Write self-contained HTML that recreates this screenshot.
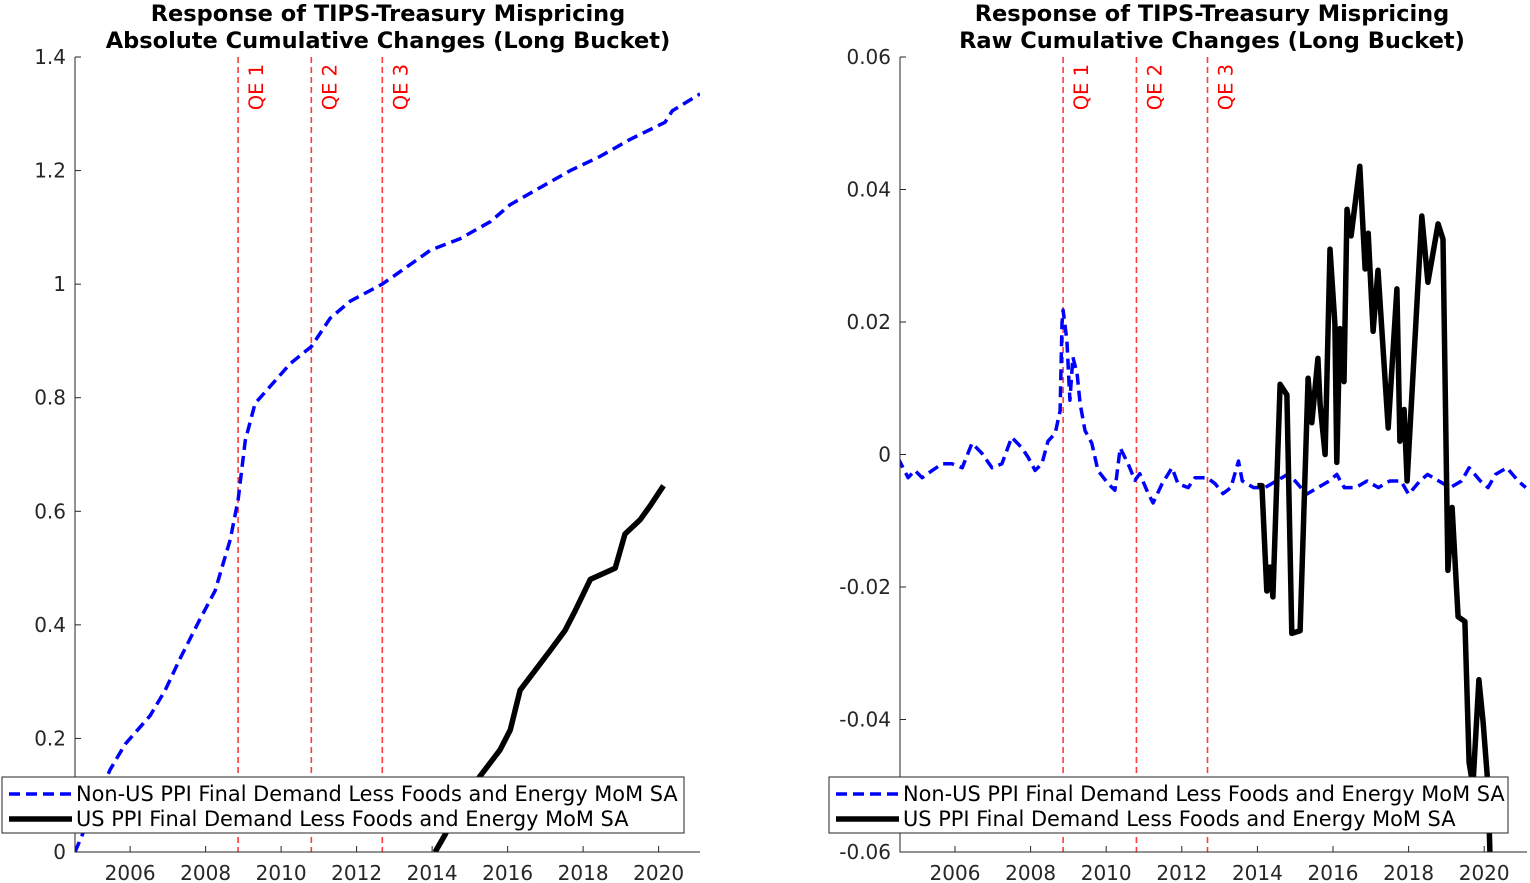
<!DOCTYPE html>
<html><head><meta charset="utf-8"><style>
html,body{margin:0;padding:0;background:#fff;}
svg{display:block;font-family:"DejaVu Sans","Liberation Sans",sans-serif;}
</style></head><body>
<svg id="chart" width="1530" height="883" viewBox="0 0 1530 883">
<defs>
<clipPath id="clipL"><rect x="75" y="57" width="625" height="795"/></clipPath>
<clipPath id="clipR"><rect x="900" y="57" width="627" height="795"/></clipPath>
</defs>
</svg>
<script>
// ---------- data ----------
const qeYears = [2008.86, 2010.8, 2012.68];
const qeLabels = ["QE 1", "QE 2", "QE 3"];
const xTickYears = [2006, 2008, 2010, 2012, 2014, 2016, 2018, 2020];
const leftYTicks = [0, 0.2, 0.4, 0.6, 0.8, 1, 1.2, 1.4];
const rightYTicks = [-0.06, -0.04, -0.02, 0, 0.02, 0.04, 0.06];
const seriesNames = ["Non-US PPI Final Demand Less Foods and Energy MoM SA", "US PPI Final Demand Less Foods and Energy MoM SA"];

const leftBlueYears = [2004.54,2005.47,2005.87,2006.53,2006.93,2007.32,2007.85,2008.25,2008.65,2008.86,2009.05,2009.31,2009.71,2010.24,2010.8,2011.3,2011.83,2012.68,2013.43,2013.96,2014.74,2015.54,2016.07,2016.86,2017.66,2018.45,2019.25,2020.17,2020.36,2021.1];
const leftBlueValues = [0,0.145,0.19,0.24,0.285,0.34,0.41,0.46,0.55,0.62,0.725,0.79,0.82,0.86,0.89,0.94,0.97,1.0,1.035,1.06,1.08,1.11,1.14,1.17,1.2,1.225,1.255,1.285,1.305,1.335];
const leftBlackYears = [2014.08,2014.34,2014.6,2015.0,2015.4,2015.8,2016.07,2016.33,2016.73,2017.13,2017.52,2017.79,2018.19,2018.85,2019.11,2019.51,2019.78,2020.13];
const leftBlackValues = [0,0.03,0.065,0.11,0.145,0.18,0.215,0.285,0.32,0.355,0.39,0.425,0.48,0.5,0.56,0.585,0.61,0.645];

const rightBlueYears = [2004.49,2004.76,2004.94,2005.13,2005.4,2005.66,2005.92,2006.19,2006.45,2006.71,2006.98,2007.24,2007.5,2007.77,2007.93,2008.12,2008.3,2008.46,2008.65,2008.78,2008.83,2008.86,2008.96,2009.04,2009.12,2009.23,2009.31,2009.44,2009.62,2009.78,2010.05,2010.23,2010.37,2010.58,2010.76,2010.89,2011.11,2011.24,2011.48,2011.74,2011.9,2012.17,2012.35,2012.67,2012.88,2013.09,2013.3,2013.5,2013.6,2013.9,2014.2,2014.5,2014.8,2015.0,2015.3,2015.6,2015.9,2016.1,2016.3,2016.6,2016.9,2017.2,2017.5,2017.8,2018.0,2018.3,2018.5,2018.8,2019.1,2019.4,2019.6,2019.9,2020.1,2020.3,2020.6,2020.9,2021.1];
const rightBlueValues = [-0.0005,-0.0035,-0.0024,-0.0035,-0.0024,-0.0014,-0.0014,-0.002,0.0017,0.0002,-0.002,-0.0014,0.0026,0.001,-0.0004,-0.0024,-0.0014,0.002,0.0032,0.0066,0.0198,0.0218,0.0172,0.0082,0.0147,0.0122,0.0077,0.0036,0.0017,-0.0024,-0.0044,-0.0054,0.001,-0.0014,-0.0039,-0.0029,-0.0059,-0.0073,-0.0044,-0.002,-0.0044,-0.005,-0.0035,-0.0035,-0.0044,-0.0059,-0.005,-0.001,-0.004,-0.005,-0.005,-0.004,-0.003,-0.004,-0.006,-0.005,-0.004,-0.003,-0.005,-0.005,-0.004,-0.005,-0.004,-0.004,-0.006,-0.004,-0.003,-0.004,-0.005,-0.004,-0.002,-0.004,-0.005,-0.003,-0.002,-0.004,-0.005];
const rightBlackYears = [2014.0,2014.12,2014.25,2014.33,2014.41,2014.6,2014.78,2014.91,2015.13,2015.34,2015.44,2015.6,2015.66,2015.79,2015.92,2016.05,2016.1,2016.18,2016.29,2016.37,2016.48,2016.71,2016.85,2016.93,2017.06,2017.19,2017.46,2017.69,2017.77,2017.88,2017.96,2018.35,2018.51,2018.78,2018.91,2019.04,2019.15,2019.31,2019.49,2019.6,2019.7,2019.86,2019.97,2020.1,2020.2];
const rightBlackValues = [-0.0047,-0.0047,-0.0206,-0.017,-0.0215,0.0106,0.009,-0.027,-0.0266,0.0115,0.0048,0.0145,0.0076,0.0,0.031,0.0197,-0.0012,0.019,0.011,0.037,0.033,0.0435,0.028,0.0334,0.0186,0.0278,0.004,0.025,0.002,0.0068,-0.004,0.036,0.026,0.0348,0.0325,-0.0175,-0.008,-0.0245,-0.0252,-0.0465,-0.05,-0.034,-0.0404,-0.05,-0.07];

// ---------- drawing ----------
const svg = document.getElementById('chart');
const NS = 'http://www.w3.org/2000/svg';
function mk(tag, attrs, parent) {
  const e = document.createElementNS(NS, tag);
  for (const k in attrs) e.setAttribute(k, attrs[k]);
  (parent || svg).appendChild(e);
  return e;
}

function drawPanel(p) {
  const g = mk('g', {});
  
  
  const xs = y => p.x0 + (y - p.yr0) * p.pxYear;
  const ys = v => p.yBottom - (v - p.vMin) / (p.vMax - p.vMin) * (p.yBottom - p.yTop);

  const t = mk('text', {x: p.titleX, y: 21, 'text-anchor': 'middle', 'font-size': 22.5, 'font-weight': 'bold', fill: '#000'}, g);
  
  
  const t1 = mk('tspan', {x: p.titleX, dy: 0}, t); t1.textContent = p.title[0];
  const t2 = mk('tspan', {x: p.titleX, dy: 27}, t); t2.textContent = p.title[1];

  qeYears.forEach((qy, i) => {
    const X = xs(qy);
    const l = mk('line', {x1: X, x2: X, y1: p.yTop, y2: p.yBottom, stroke: '#ff3b3b', 'stroke-width': 1.6, 'stroke-dasharray': '6,4'}, g);
    
    
    const tx = mk('text', {x: X + 25, y: 64, 'font-size': 19.5, fill: '#ff0000', 'text-anchor': 'end', transform: `rotate(-90 ${X + 25} 64)`}, g);
    
    
    tx.textContent = qeLabels[i];
  });

  function line(years, vals, color, width, dash, nm) {
    const d = years.map((y, i) => (i ? 'L' : 'M') + xs(y).toFixed(1) + ',' + ys(vals[i]).toFixed(1)).join('');
    const a = {d: d, fill: 'none', stroke: color, 'stroke-width': width, 'stroke-linejoin': 'round', 'clip-path': `url(#${p.clip})`};
    if (dash) a['stroke-dasharray'] = dash;
    const e = mk('path', a, g);
    
    
  }
  line(p.blueY, p.blueV, '#0000ff', 3.5, '11,6', 'non-us-series-line');
  line(p.blackY, p.blackV, '#000000', 5.5, null, 'us-series-line');

  const ax = mk('path', {d: `M${p.x0},${p.yTop}V${p.yBottom}H${p.x1}`, fill: 'none', stroke: '#262626', 'stroke-width': 1}, g);
  
  
  xTickYears.forEach(yr => {
    const X = xs(yr);
    mk('line', {x1: X, x2: X, y1: p.yBottom, y2: p.yBottom - 6, stroke: '#262626'}, g);
    const tl = mk('text', {x: X, y: p.yBottom + 28, 'text-anchor': 'middle', 'font-size': 20, fill: '#262626'}, g);
    
    
    tl.textContent = yr;
  });
  p.yTicks.forEach(v => {
    const Y = ys(v);
    mk('line', {x1: p.x0, x2: p.x0 + 6, y1: Y, y2: Y, stroke: '#262626'}, g);
    const tl = mk('text', {x: p.x0 - 9, y: Y + 7, 'text-anchor': 'end', 'font-size': 20, fill: '#262626'}, g);
    
    
    tl.textContent = String(Math.round(v * 100) / 100);
  });

  const lg = mk('g', {}, g);
  
  
  mk('rect', {x: p.legX, y: 777, width: p.legW, height: 56, fill: '#fff', stroke: '#262626', 'stroke-width': 1}, lg);
  [['#0000ff', 3.5, '11,6'], ['#000', 5.5, null]].forEach((s, i) => {
    const yy = 794 + i * 25;
    const a = {x1: p.legX + 7, x2: p.legX + 70, y1: yy, y2: yy, stroke: s[0], 'stroke-width': s[1]};
    if (s[2]) a['stroke-dasharray'] = s[2];
    const ln = mk('line', a, lg);
    
    
    const tx = mk('text', {x: p.legX + 74, y: yy + 7, 'font-size': 20.9, fill: '#000'}, lg);
    
    
    tx.textContent = seriesNames[i];
  });
}

drawPanel({name: 'left-panel', clip: 'clipL', x0: 75, x1: 700, yTop: 57, yBottom: 852, yr0: 2004.54, pxYear: 37.75,
  vMin: 0, vMax: 1.4, yTicks: leftYTicks, titleX: 388,
  title: ['Response of TIPS-Treasury Mispricing', 'Absolute Cumulative Changes (Long Bucket)'],
  blueY: leftBlueYears, blueV: leftBlueValues, blackY: leftBlackYears, blackV: leftBlackValues, legX: 2, legW: 682});
drawPanel({name: 'right-panel', clip: 'clipR', x0: 900, x1: 1527, yTop: 57, yBottom: 852, yr0: 2004.545, pxYear: 37.8,
  vMin: -0.06, vMax: 0.06, yTicks: rightYTicks, titleX: 1212,
  title: ['Response of TIPS-Treasury Mispricing', 'Raw Cumulative Changes (Long Bucket)'],
  blueY: rightBlueYears, blueV: rightBlueValues, blackY: rightBlackYears, blackV: rightBlackValues, legX: 829, legW: 679});
</script>
</body></html>
